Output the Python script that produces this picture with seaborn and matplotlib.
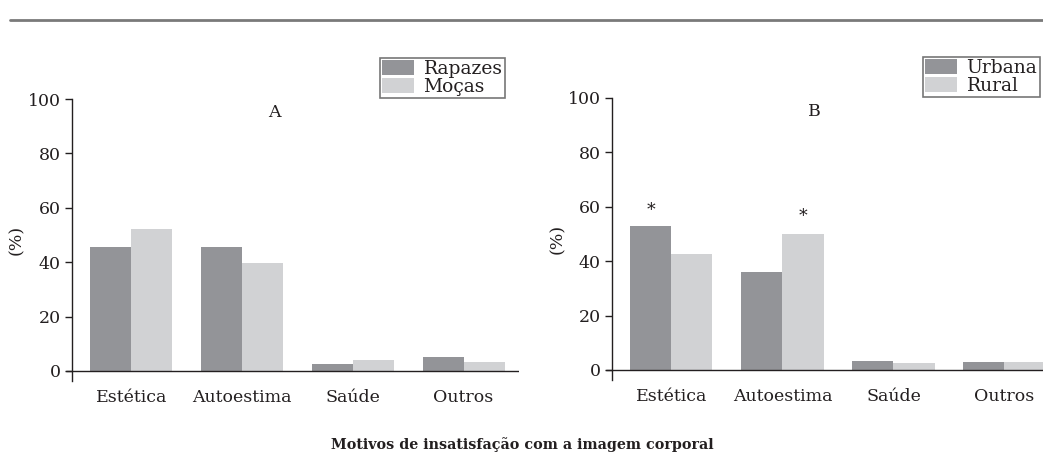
"""
Motivos de insatisfação com a imagem corporal - two grouped bar panels.
"""

import pandas as pd
import matplotlib.pyplot as plt
import seaborn as sns
from matplotlib.lines import Line2D
from matplotlib.patches import Patch

# Data
categorias = ["Estética", "Autoestima", "Saúde", "Outros"]

grupos_a = ["Rapazes", "Moças"]
rapazes = [45.6, 45.6, 2.6, 5.1]
mocas = [52.2, 39.7, 4.0, 3.3]

grupos_b = ["Urbana", "Rural"]
urbana = [52.9, 36.0, 3.3, 2.9]
rural = [42.6, 50.0, 2.6, 2.9]

# asterisks: (category index, hue index, y)
asteriscos_b = [(0, 0, 58.5), (1, 1, 56.5)]

titulo = "Motivos de insatisfação com a imagem corporal"

DARK = "#939498"
LIGHT = "#d1d2d4"
INK = "#231f20"
W, H = 1043, 469

sns.set_style("white")
plt.rcParams['font.family'] = ['DejaVu Serif']
plt.rcParams['text.color'] = INK
plt.rcParams['axes.labelcolor'] = INK
plt.rcParams['xtick.color'] = INK
plt.rcParams['ytick.color'] = INK


def long_df(groups, a, b):
    rows = []
    for cat, va, vb in zip(categorias, a, b):
        rows.append({"cat": cat, "grupo": groups[0], "val": va})
        rows.append({"cat": cat, "grupo": groups[1], "val": vb})
    return pd.DataFrame(rows)


def px_axes(left_px, right_px, top_px, bottom_px):
    return [left_px / W, 1 - bottom_px / H,
            (right_px - left_px) / W, (bottom_px - top_px) / H]


def draw_panel(ax, df, groups, letter, legend_box, ylabel_x):
    sns.barplot(data=df, x="cat", y="val", hue="grupo", hue_order=groups,
                order=categorias, palette=[DARK, LIGHT], width=0.74,
                gap=0, saturation=1, linewidth=0, ax=ax, legend=False)
    ax.set_xlim(-0.535, 3.5)
    ax.set_ylim(-3.7, 100)
    ax.set_yticks(range(0, 101, 20))
    ax.tick_params(axis="y", direction="out", length=5, width=1, pad=3,
                   labelsize=12.5, left=True)
    ax.tick_params(axis="x", length=0, pad=6, labelsize=12.5)
    for s in ["top", "right", "bottom"]:
        ax.spines[s].set_visible(False)
    ax.spines["left"].set_color(INK)
    ax.spines["left"].set_linewidth(1)
    ax.axhline(0, xmin=0, xmax=1, color=INK, lw=1, zorder=3)
    ax.plot([-0.535 - 0.05, -0.535], [0, 0], color=INK, lw=1,
            clip_on=False)
    ax.set_xlabel("")
    ax.set_ylabel("(%)", fontsize=12.5)
    ax.yaxis.set_label_coords(ylabel_x, 0.5)
    ax.text(1.29, 95, letter, ha="center", va="center", fontsize=12.5)

    handles = [Patch(facecolor=DARK, edgecolor="none"),
               Patch(facecolor=LIGHT, edgecolor="none")]
    leg = ax.figure.legend(handles, groups, loc="upper left",
                           bbox_to_anchor=legend_box,
                           bbox_transform=ax.figure.transFigure,
                           frameon=True, fancybox=False, fontsize=13.5,
                           handlelength=1.7, handleheight=0.85,
                           handletextpad=0.5, labelspacing=0.0,
                           borderpad=0.12, borderaxespad=0)
    leg.get_frame().set_edgecolor("#555555")
    leg.get_frame().set_linewidth(1.2)
    return ax


fig = plt.figure(figsize=(W / 100, H / 100), dpi=100)

ax_a = fig.add_axes(px_axes(72, 519, 99, 381))
ax_b = fig.add_axes(px_axes(612, 1060, 98, 380))

draw_panel(ax_a, long_df(grupos_a, rapazes, mocas), grupos_a, "A",
           (380 / W, 1 - 58 / H), -0.105)
draw_panel(ax_b, long_df(grupos_b, urbana, rural), grupos_b, "B",
           (923 / W, 1 - 57 / H), -0.103)

# significance marks
for ci, hi, y in asteriscos_b:
    x = ci + (hi - 0.5) * 0.37
    ax_b.text(x, y, "*", ha="center", va="center", fontsize=12.5)

# top rule and bottom caption
fig.add_artist(Line2D([10 / W, 1], [1 - 20 / H, 1 - 20 / H],
                      color="#7a7a7a", lw=2))
fig.text(522 / W, 1 - 445 / H, titulo, ha="center", va="center",
         fontsize=10.3, fontweight="bold")

fig.savefig("out.png", dpi=100)
